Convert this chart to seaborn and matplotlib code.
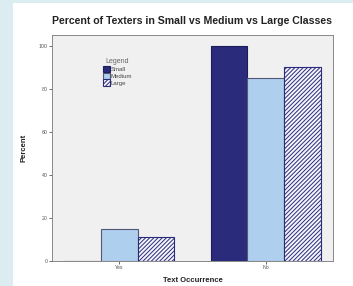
import pandas as pd
import matplotlib
matplotlib.use('Agg')
import matplotlib.pyplot as plt
import seaborn as sns
from matplotlib.patches import Rectangle

# Данные
occurrence = ['Yes', 'No']
class_sizes = ['Small', 'Medium', 'Large']
small_pct = [0, 100]
medium_pct = [15, 85]
large_pct = [11, 90]

df = pd.DataFrame({
    'occurrence': occurrence * 3,
    'size': ['Small'] * 2 + ['Medium'] * 2 + ['Large'] * 2,
    'percent': small_pct + medium_pct + large_pct,
})

sns.set_style('white')
plt.rcParams['font.family'] = ['Liberation Sans', 'DejaVu Sans']
plt.rcParams['hatch.linewidth'] = 0.7

navy = '#2b2b7c'
palette = {'Small': navy, 'Medium': '#aecfee', 'Large': '#f4f4fa'}

fig = plt.figure(figsize=(3.53, 2.86), dpi=100)
fig.patch.set_facecolor('white')
# светло-голубая рамка слева и сверху
fig.patches.append(Rectangle((0, 0), 13 / 353, 1, transform=fig.transFigure,
                             facecolor='#dcedf2', edgecolor='none', zorder=-1))
fig.patches.append(Rectangle((0, 1 - 3 / 286), 1, 3 / 286, transform=fig.transFigure,
                             facecolor='#dcedf2', edgecolor='none', zorder=-1))

ax = fig.add_axes([52 / 353, 25 / 286, 281 / 353, 226 / 286])
sns.barplot(data=df, x='occurrence', y='percent', hue='size', order=occurrence,
            hue_order=class_sizes, palette=palette, width=0.75, saturation=1,
            ax=ax, legend=False)

edges = ['#1c1c5a', '#555577', navy]
for cont, ec, name in zip(ax.containers, edges, class_sizes):
    for p in cont.patches:
        p.set_edgecolor(ec)
        p.set_linewidth(0.8)
        if name == 'Large':
            p.set_hatch('////////')

ax.set_facecolor('#f0f0f0')
ax.set_xlim(-0.46, 1.46)
ax.set_ylim(0, 105)
ax.set_yticks([0, 20, 40, 60, 80, 100])
ax.tick_params(axis='both', labelsize=3.8, labelcolor='#555555', length=2,
               width=0.6, color='#555555', pad=1, left=True, bottom=True)
for s in ax.spines.values():
    s.set_color('#888888')
    s.set_linewidth(0.7)

ax.set_title('Percent of Texters in Small vs Medium vs Large Classes',
             fontsize=7.6, fontweight='bold', pad=8, color='#222222')
ax.set_xlabel('Text Occurrence', fontsize=5.5, fontweight='bold', labelpad=5,
              color='#222222')
ax.set_ylabel('Percent', fontsize=5.5, fontweight='bold', labelpad=8,
              color='#222222')

leg = ax.legend(ax.containers, class_sizes, title='Legend', loc='upper left',
                bbox_to_anchor=(0.165, 0.915), frameon=False, fontsize=4.3,
                title_fontsize=5, handlelength=1.2, handleheight=1.2,
                handletextpad=0.2, labelspacing=0.1, borderpad=0.2)
leg.get_title().set_color('#666666')
for t in leg.get_texts():
    t.set_color('#444444')

fig.savefig('out.png', dpi=100)
